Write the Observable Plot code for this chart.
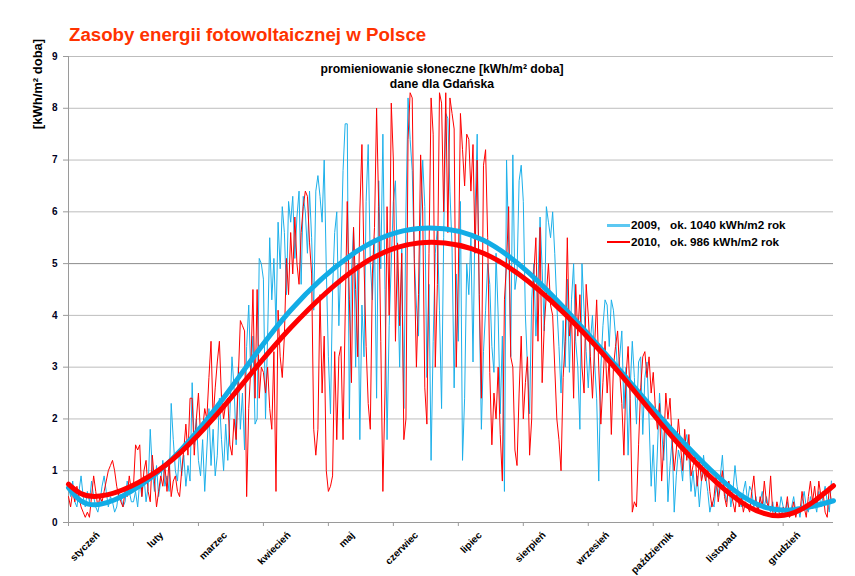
<!DOCTYPE html>
<html><head><meta charset="utf-8">
<script src="https://cdn.jsdelivr.net/npm/d3@7"></script>
<script src="https://cdn.jsdelivr.net/npm/@observablehq/plot@0.6"></script>
<style>
body{margin:0;background:#fff;}
#wrap{position:relative;width:855px;height:576px;font-family:"Liberation Sans",Arial,sans-serif;overflow:hidden;}
.abs{position:absolute;white-space:pre;font-weight:bold;color:#000;}
</style></head><body>
<div id="wrap">
<div id="chart"></div>
<div class="abs" style="left:69px;top:24px;font-size:18.7px;color:#ff3300;">Zasoby energii fotowoltaicznej w Polsce</div>
<div class="abs" style="left:37px;top:84px;font-size:13px;transform:translate(-50%,-50%) rotate(-90deg);">[kWh/m² doba]</div>
<div class="abs" style="left:442px;top:62px;font-size:12.2px;line-height:15px;text-align:center;transform:translateX(-50%);">promieniowanie słoneczne [kWh/m² doba]
dane dla Gdańska</div>
<div style="position:absolute;left:607px;top:224px;width:23px;height:3px;background:#5cc8f2;"></div>
<div style="position:absolute;left:607px;top:241px;width:23px;height:1.5px;background:#ff0000;"></div>
<div class="abs" style="left:631px;top:218px;font-size:11.7px;">2009,   ok. 1040 kWh/m2 rok</div>
<div class="abs" style="left:631px;top:235px;font-size:11.7px;">2010,   ok. 986 kWh/m2 rok</div>
</div>
<script>
// daily solar irradiation, Gdańsk [kWh/m2 day]
const solar2009 = [
0.7,0.5,0.8,0.4,0.3,0.6,0.9,0.5,0.3,0.6,0.4,0.8,0.5,0.3,0.2,0.4,0.7,0.9,0.6,0.3,0.5,0.4,0.2,0.3,0.6,0.5,0.3,0.4,0.8,0.6,0.4,
0.4,0.6,0.3,0.8,0.5,0.9,0.4,0.7,1.8,1.0,0.6,1.1,0.5,0.8,1.2,0.7,0.9,0.6,2.3,1.6,1.0,0.8,1.4,0.9,1.3,0.7,1.1,0.8,
2.7,1.5,2.0,1.2,0.9,1.6,0.6,1.4,2.2,1.1,1.8,0.9,1.3,2.4,1.6,1.0,1.9,1.2,2.1,3.2,2.6,1.5,3.0,1.8,2.5,1.4,3.4,4.2,2.8,3.6,1.9,
2.0,5.1,5.0,4.7,2.0,3.6,5.5,4.3,5.1,3.8,5.8,4.9,6.1,5.6,4.4,6.2,5.8,6.3,5.1,5.9,6.4,4.6,6.3,6.0,5.2,6.4,5.5,4.1,6.4,6.7,
6.3,5.8,7.0,4.9,3.2,2.1,4.5,5.6,6.0,3.8,5.1,6.8,7.7,7.7,2.0,4.8,5.7,3.0,5.0,1.6,4.2,3.2,6.2,7.3,5.0,4.3,5.5,2.4,6.6,4.9,7.5,
4.5,1.6,3.8,5.0,6.2,6.6,4.8,3.0,5.3,2.2,6.0,8.2,7.4,6.8,5.1,4.2,3.6,5.9,7.0,6.1,2.8,4.6,1.2,3.5,5.2,5.7,4.1,2.2,5.5,7.9,
7.8,6.4,5.3,2.6,4.8,3.5,6.2,1.2,2.4,5.0,4.4,5.5,3.1,6.0,7.5,4.2,1.8,3.3,4.1,5.0,4.6,3.4,2.9,5.2,4.0,2.1,3.6,0.6,7.0,5.4,3.2,
7.1,4.5,4.8,6.6,6.9,6.2,4.0,3.0,2.1,4.3,5.0,3.6,4.6,5.9,4.9,3.7,6.1,5.8,5.5,6.0,5.2,4.2,3.4,2.5,3.9,3.0,4.7,2.9,4.3,5.0,3.5,
3.0,1.8,5.0,4.1,3.3,2.6,3.5,4.0,3.1,2.4,0.8,3.0,3.8,4.3,4.2,3.4,4.3,4.1,3.6,2.9,3.2,3.7,2.2,3.0,1.3,2.6,3.5,2.8,1.9,3.1,
3.2,1.7,2.8,3.1,2.0,0.7,1.5,0.4,1.4,2.5,1.8,1.2,2.0,0.4,1.1,1.6,0.2,0.9,1.4,1.2,0.8,1.5,1.7,1.3,0.6,1.0,0.5,0.9,0.3,0.8,1.3,
0.9,0.6,0.2,0.4,0.3,0.7,0.5,0.9,1.3,0.6,0.4,0.8,0.3,0.6,1.1,0.7,0.5,0.3,0.6,0.8,0.4,0.7,0.6,0.3,0.5,0.2,0.4,0.6,0.3,0.5,
0.3,0.2,0.4,0.1,0.3,0.2,0.5,0.3,0.2,0.4,0.1,0.3,0.5,0.2,0.3,0.1,0.4,0.6,0.3,0.2,0.5,0.3,0.4,0.2,0.6,0.3,0.5,0.7,0.4,0.2,0.8
];
const solar2010 = [
0.5,0.3,0.6,0.4,0.7,0.5,0.3,0.2,0.1,0.2,0.1,0.5,0.9,0.6,0.3,0.5,0.4,0.6,0.8,1.0,1.1,1.2,1.0,0.7,0.5,0.4,0.3,0.6,0.5,0.9,0.6,
0.7,1.5,1.4,1.5,0.5,1.0,1.2,0.6,0.4,1.3,0.8,0.3,0.6,0.9,0.7,1.1,0.6,1.2,0.5,0.8,0.9,0.6,0.5,1.0,1.4,1.9,1.3,2.4,
2.4,1.3,2.0,2.5,1.7,1.8,2.2,2.0,2.8,3.5,2.0,2.6,3.1,3.5,2.4,2.0,2.3,2.4,1.5,1.3,2.0,1.6,2.8,3.9,3.8,3.7,0.5,2.2,3.0,4.5,2.4,
4.5,2.4,3.0,2.9,2.5,3.0,2.2,1.8,3.3,0.6,4.1,3.2,2.8,3.6,5.1,4.4,5.6,4.8,5.9,5.0,4.6,5.6,6.1,6.4,6.3,5.4,4.8,1.8,1.3,1.8,
4.4,2.5,3.6,1.0,0.6,0.7,0.9,3.3,1.6,3.2,3.4,1.6,4.0,6.2,4.3,2.7,5.7,4.5,3.2,6.0,7.3,5.0,3.4,2.3,1.8,4.8,5.7,8.0,6.1,3.5,0.6,
2.5,6.1,4.0,8.1,7.0,3.5,5.4,3.8,5.2,1.6,2.0,7.4,8.3,8.2,5.0,3.0,4.4,7.1,6.0,2.6,1.9,5.2,8.2,7.5,3.0,4.6,8.3,8.1,6.0,8.3,
5.6,8.2,7.9,7.6,3.0,4.8,7.9,7.2,6.5,7.5,7.4,6.4,7.3,5.2,7.0,4.4,2.4,6.9,7.2,5.5,2.9,1.5,2.5,2.0,3.0,1.7,0.8,4.3,5.0,6.1,3.2,
3.0,1.4,1.1,2.5,3.6,2.0,2.7,3.2,1.3,2.0,4.8,5.5,3.5,5.7,2.7,3.8,4.4,5.0,4.2,4.0,3.0,2.0,1.6,1.0,2.8,3.5,5.5,3.6,4.0,2.4,4.6,
3.6,4.4,3.0,2.5,4.6,4.0,3.2,2.4,3.4,4.3,3.0,1.9,2.7,3.5,2.5,3.2,1.7,3.0,3.4,3.7,2.9,2.3,1.3,2.8,3.4,2.4,0.2,0.4,0.3,1.5,
2.6,3.2,3.3,2.8,3.2,2.5,2.9,2.2,1.8,2.3,0.8,1.5,2.5,2.0,2.4,1.6,1.0,1.4,2.0,1.5,1.0,1.8,1.2,1.7,0.9,1.1,1.3,0.7,1.2,0.8,1.0,
0.8,1.1,0.6,0.3,0.5,0.9,0.4,0.7,1.0,0.5,0.3,0.8,0.6,0.4,0.2,0.6,0.3,0.5,0.2,0.4,0.3,0.2,0.6,0.9,0.4,0.2,0.5,0.3,0.8,0.4,
0.3,0.9,0.2,0.1,0.4,0.2,0.1,0.3,0.2,0.5,0.1,0.2,0.4,0.1,0.3,0.2,0.6,0.3,0.1,0.5,0.8,0.4,0.7,0.3,0.8,0.5,0.6,0.2,0.1,0.7,0.4
];
// trend curves read at these days
const trendDays = [0,15,47,79,106,138,167,198,230,262,289,320,344,365];
const trend2009 = [0.67,0.35,1.13,2.68,4.10,5.25,5.68,5.45,4.42,2.99,1.74,0.55,0.24,0.42];
const trend2010 = [0.74,0.51,1.13,2.48,3.76,4.93,5.40,5.20,4.29,2.93,1.61,0.42,0.16,0.71];
const months = ["styczeń","luty","marzec","kwiecień","maj","czerwiec","lipiec","sierpień","wrzesień","październik","listopad","grudzień"];
const monthTickDays = [0,31,62,93,124,155,186,217,248,279,310,341];
const monthLabelDays = [15,45.4,75.8,106.2,136.6,167,197.4,227.8,258.2,288.6,319,349.4];
const yTicks = [0,1,2,3,4,5,6,7,8,9];

const d09 = solar2009.map((v, i) => ({day: i, v}));
const d10 = solar2010.map((v, i) => ({day: i, v}));
const t09 = trendDays.map((d, i) => ({day: d, v: trend2009[i]}));
const t10 = trendDays.map((d, i) => ({day: d, v: trend2010[i]}));

const chart = Plot.plot({
  width: 855, height: 576,
  marginLeft: 68, marginRight: 22, marginTop: 56, marginBottom: 54,
  style: {fontFamily: "'Liberation Sans', Arial, sans-serif", fontSize: "10px", fontWeight: "bold", background: "#fff", color: "#000", overflow: "visible"},
  x: {domain: [0, 365]},
  y: {domain: [0, 9]},
  marks: [
    Plot.ruleY(yTicks.slice(1), {stroke: d => d === 5 ? "#8c8c8c" : "#bdbdbd", strokeWidth: 1}),
    Plot.ruleX([0], {stroke: "#9a9a9a"}),
    Plot.ruleY([0], {stroke: "#9a9a9a"}),
    Plot.axisY({ticks: yTicks, tickSize: 5, tickPadding: 6, stroke: "#9a9a9a", label: null, fill: "#000022"}),
    Plot.axisX({ticks: monthTickDays, tickSize: 4, tickFormat: () => "", stroke: "#9a9a9a", label: null}),
    Plot.axisX({ticks: monthLabelDays, tickSize: 0, tickPadding: 11, dx: -2, tickRotate: -45, textAnchor: "end",
      tickFormat: d => months[monthLabelDays.indexOf(d)], label: null}),
    Plot.lineY(d09, {x: "day", y: "v", stroke: "#1cb0ea", strokeWidth: 1}),
    Plot.lineY(d10, {x: "day", y: "v", stroke: "#ff0000", strokeWidth: 1}),
    Plot.lineY(t09, {x: "day", y: "v", stroke: "#12ace6", strokeWidth: 5, curve: "natural"}),
    Plot.lineY(t10, {x: "day", y: "v", stroke: "#ff0000", strokeWidth: 5, curve: "natural"})
  ]
});
document.getElementById("chart").appendChild(chart);
</script>
</body></html>
